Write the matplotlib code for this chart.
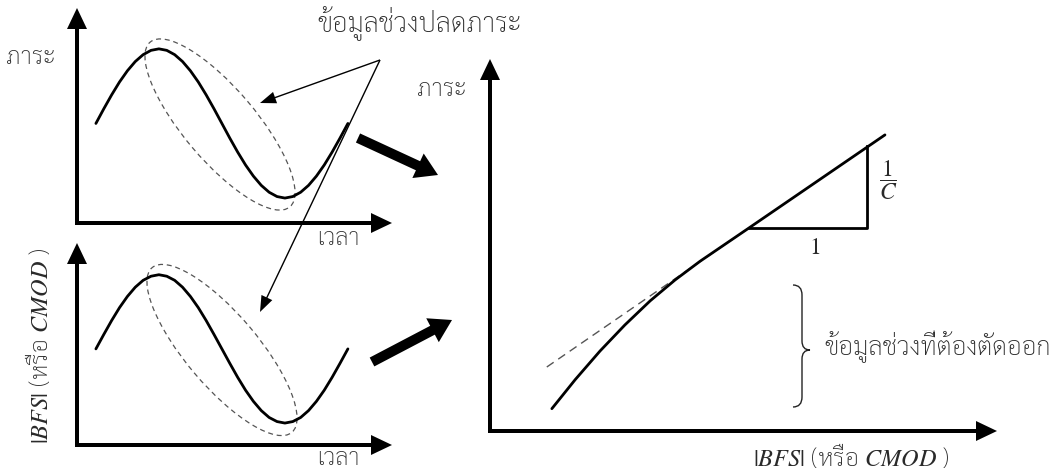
import matplotlib
matplotlib.use('Agg')
import matplotlib.pyplot as plt
from matplotlib.patches import Ellipse, FancyArrow, PathPatch
from matplotlib.path import Path

plt.rcParams['mathtext.fontset'] = 'stix'
THAI = 'Sarabun'
W, H = 1055, 473

# ค่าที่อ่านจากภาพ (แกนเวลา 0-10, แกนค่า 0-10)
time_vals = [0.6, 0.85, 1.1, 1.35, 1.6, 1.85, 2.1, 2.35, 2.6, 2.85, 3.1,
             3.35, 3.6, 3.85, 4.1, 4.35, 4.6, 4.85, 5.1, 5.35, 5.6, 5.85,
             6.1, 6.35, 6.6, 6.85, 7.1, 7.35, 7.6, 7.85, 8.1, 8.35, 8.6]
load_vals = [4.63, 5.31, 5.96, 6.56, 7.08, 7.51, 7.83, 8.03, 8.10, 8.03, 7.83,
             7.51, 7.08, 6.56, 5.96, 5.31, 4.63, 3.95, 3.30, 2.70, 2.18, 1.75,
             1.43, 1.23, 1.16, 1.23, 1.43, 1.75, 2.18, 2.70, 3.30, 3.95, 4.63]
bfs_vals = [4.47, 5.14, 5.79, 6.39, 6.91, 7.34, 7.66, 7.85, 7.92, 7.85, 7.66,
            7.34, 6.91, 6.39, 5.79, 5.14, 4.47, 3.80, 3.15, 2.55, 2.03, 1.60,
            1.28, 1.09, 1.02, 1.09, 1.28, 1.60, 2.03, 2.55, 3.15, 3.80, 4.47]

# กราฟภาระ - |BFS| (ช่วงปลดภาระ)
unload_x = [1.22, 1.68, 2.17, 2.66, 3.16, 3.65, 4.14, 5.11, 7.79]
unload_y = [0.60, 1.38, 2.15, 2.85, 3.50, 4.06, 4.56, 5.46, 7.96]
fit_x = [1.12, 5.11]
fit_y = [1.72, 5.46]
tri_x = [5.11, 7.44, 7.44]
tri_y = [5.46, 5.46, 7.66]

fig = plt.figure(figsize=(10.55, 4.73), dpi=100)
ax = fig.add_axes([0, 0, 1, 1])
ax.set_xlim(0, W)
ax.set_ylim(H, 0)
ax.axis('off')


def panel(x0, y0, x1, y1, ytop=10):
    # x0,y0 = จุดกำเนิด (พิกเซล), x1,y1 = ปลายลูกศรแกน
    p = fig.add_axes([x0 / W, 1 - y0 / H, (x1 - x0) / W, (y0 - y1) / H])
    p.set_xlim(0, 10)
    p.set_ylim(0, ytop)
    p.axis('off')
    p.patch.set_alpha(0)
    ax.add_patch(FancyArrow(x0 - 2, y0, x1 - x0 + 2, 0, width=4, head_width=20,
                            head_length=21, length_includes_head=True,
                            color='black', lw=0))
    ax.add_patch(FancyArrow(x0, y0 + 2, 0, y1 - y0 - 2, width=4, head_width=20,
                            head_length=21, length_includes_head=True,
                            color='black', lw=0))
    return p


p1 = panel(77, 223, 392, 8)
p1.plot(time_vals, load_vals, color='black', lw=2.0, solid_capstyle='round')
p2 = panel(77, 445, 392, 243, ytop=202 / 21.5)
p2.plot(time_vals, bfs_vals, color='black', lw=2.0, solid_capstyle='round')
p3 = panel(490, 431, 997, 59)
p3.plot(fit_x, fit_y, color='#555555', lw=1.0, ls=(0, (6, 4)))
p3.plot(unload_x, unload_y, color='black', lw=2.0, solid_capstyle='round')
p3.plot(tri_x, tri_y, color='black', lw=2.0)

# วงรีเส้นประ
for cx, cy in [(220, 124.5), (222, 350)]:
    ax.add_patch(Ellipse((cx, cy), 216, 72, angle=49.7, fill=False,
                         ec='#555555', lw=0.9, ls=(0, (4, 3))))

# ลูกศรชี้
for tx, ty in [(260, 103), (260, 312)]:
    ax.add_patch(FancyArrow(380, 60, tx - 380, ty - 60, width=1.4, head_width=12,
                            head_length=16, length_includes_head=True,
                            color='black', lw=0))
for sx, sy, ex, ey in [(358, 138, 438, 175), (372, 362, 452, 320)]:
    ax.add_patch(FancyArrow(sx, sy, ex - sx, ey - sy, width=10, head_width=27,
                            head_length=22, length_includes_head=True,
                            color='black', lw=0))

# วงเล็บปีกกา
verts = [(793, 285), (802, 285), (802, 295), (802, 341), (802, 350),
         (810, 350), (802, 350), (802, 359), (802, 397), (802, 407),
         (793, 407)]
codes = [Path.MOVETO, Path.CURVE3, Path.CURVE3, Path.LINETO, Path.CURVE3,
         Path.CURVE3, Path.CURVE3, Path.CURVE3, Path.LINETO, Path.CURVE3,
         Path.CURVE3]
ax.add_patch(PathPatch(Path(verts, codes), fill=False, lw=1.0, ec='#222222'))

tc = '#2a2a2a'
kw = dict(family=THAI, color=tc, weight='light', va='center')
ax.text(420, 24, 'ข้อมูลช่วงปลดภาระ', fontsize=19.5, ha='center', **kw)
ax.text(31, 57, 'ภาระ', fontsize=17.5, ha='center', **kw)
ax.text(338, 239, 'เวลา', fontsize=17, ha='center', **kw)
ax.text(338, 459, 'เวลา', fontsize=17, ha='center', **kw)
ax.text(40, 346, r'$|BFS|$ (หรือ $CMOD$ )', fontsize=17.5, rotation=90,
        ha='center', **kw)
ax.text(442, 89, 'ภาระ', fontsize=17.5, ha='center', **kw)
ax.text(851, 457, r'$|BFS|$ (หรือ $CMOD$ )', fontsize=17.5, ha='center', **kw)
ax.text(815, 247, r'$1$', fontsize=17, color=tc, ha='center', va='center')
ax.text(888, 180, r'$\dfrac{1}{C}$', fontsize=17, color=tc, ha='center', va='center')
ax.text(824, 347, 'ข้อมูลช่วงที่ต้องตัดออก', fontsize=18.5, ha='left', **kw)

fig.savefig('out.png')
